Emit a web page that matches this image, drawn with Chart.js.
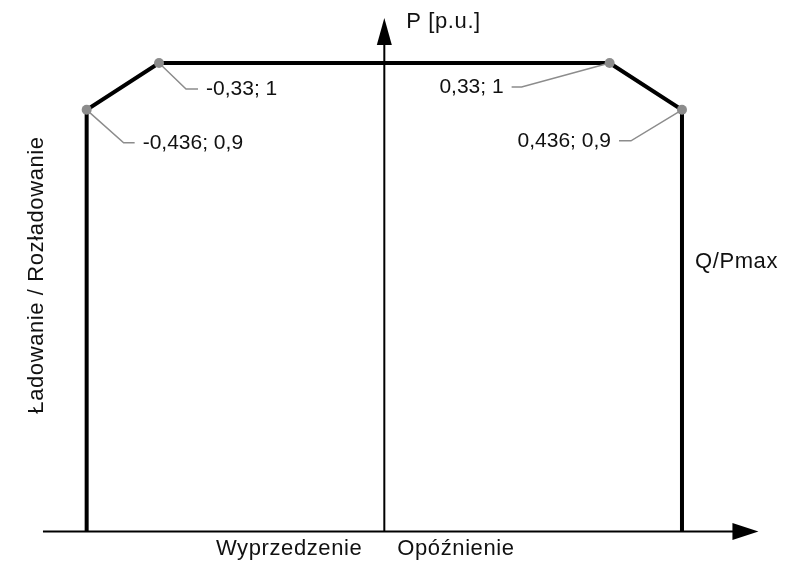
<!DOCTYPE html>
<html>
<head>
<meta charset="utf-8">
<script src="https://cdn.jsdelivr.net/npm/chart.js@4/dist/chart.umd.min.js"></script>
<style>
  body { margin: 0; background: #fff; }
  #wrap { width: 787px; height: 568px; }
</style>
</head>
<body>
<div id="wrap"><canvas id="chart" width="787" height="568"></canvas></div>
<script>
// Capability curve Q/Pmax vs P
const qValues = [-0.436, -0.436, -0.33, 0.33, 0.436, 0.436];
const pValues = [0, 0.9, 1, 1, 0.9, 0];

// points with a value label
const labelQ = [-0.436, -0.33, 0.33, 0.436];
const labelP = [0.9, 1, 1, 0.9];

const xAxisTitle = 'Q/Pmax';
const yAxisTitle = 'P [p.u.]';
const leftText = 'Wyprzedzenie';
const rightText = 'Opóźnienie';
const sideTitle = 'Ładowanie / Rozładowanie';

const FAMILY = '"Liberation Sans", Arial, sans-serif';

// leader line offsets (elbow dx, elbow dy, tail dx) per labelled point
const leaders = [
  [37, 33, 11],
  [27, 26, 12],
  [-88, 24, -10],
  [-51, 31, -12]
];

function fmt(v) {
  return String(v).replace('.', ',');
}

const curveData = qValues.map((q, i) => ({ x: q, y: pValues[i] }));
const markerData = labelQ.map((q, i) => ({ x: q, y: labelP[i] }));

function arrow(ctx, x, y, dir) {
  ctx.beginPath();
  if (dir === 'right') {
    ctx.moveTo(x, y);
    ctx.lineTo(x - 26, y - 8.5);
    ctx.lineTo(x - 26, y + 8.5);
  } else {
    ctx.moveTo(x, y);
    ctx.lineTo(x - 7.5, y + 27);
    ctx.lineTo(x + 7.5, y + 27);
  }
  ctx.closePath();
  ctx.fill();
}

const axesPlugin = {
  id: 'axesPlugin',
  beforeDatasetsDraw(chart) {
    const ctx = chart.ctx;
    const xs = chart.scales.x, ys = chart.scales.y;
    const x0 = xs.getPixelForValue(0);
    const y0 = ys.getPixelForValue(0);
    const xStart = xs.getPixelForValue(-0.5);
    const xEnd = xs.getPixelForValue(0.548);
    const yEnd = ys.getPixelForValue(1.096);
    ctx.save();
    ctx.strokeStyle = '#000';
    ctx.fillStyle = '#000';
    ctx.lineWidth = 2;
    ctx.beginPath();
    ctx.moveTo(xStart, y0);
    ctx.lineTo(xEnd - 20, y0);
    ctx.moveTo(x0, y0);
    ctx.lineTo(x0, yEnd + 20);
    ctx.stroke();
    arrow(ctx, xEnd, y0, 'right');
    arrow(ctx, x0, yEnd, 'up');
    ctx.restore();
  },
  afterDatasetsDraw(chart) {
    const ctx = chart.ctx;
    const xs = chart.scales.x, ys = chart.scales.y;
    const x0 = xs.getPixelForValue(0);
    const y0 = ys.getPixelForValue(0);
    ctx.save();

    // leader lines + value labels
    ctx.font = '21px ' + FAMILY;
    ctx.textBaseline = 'middle';
    labelQ.forEach((q, i) => {
      const px = xs.getPixelForValue(q);
      const py = ys.getPixelForValue(labelP[i]);
      const [dx, dy, tail] = leaders[i];
      ctx.strokeStyle = '#8c8c8c';
      ctx.lineWidth = 1.5;
      ctx.beginPath();
      ctx.moveTo(px, py);
      ctx.lineTo(px + dx, py + dy);
      ctx.lineTo(px + dx + tail, py + dy);
      ctx.stroke();
      ctx.fillStyle = '#111';
      const txt = fmt(q) + '; ' + fmt(labelP[i]);
      if (tail > 0) {
        ctx.textAlign = 'left';
        ctx.fillText(txt, px + dx + tail + 8, py + dy);
      } else {
        ctx.textAlign = 'right';
        ctx.fillText(txt, px + dx + tail - 8, py + dy);
      }
    });

    // axis titles
    ctx.font = '22px ' + FAMILY;
    ctx.letterSpacing = '0.6px';
    ctx.fillStyle = '#111';
    ctx.textAlign = 'left';
    ctx.fillText(yAxisTitle, x0 + 22, 22);
    ctx.fillText(xAxisTitle, 695, 262);
    ctx.textAlign = 'right';
    ctx.fillText(leftText, x0 - 22, y0 + 17);
    ctx.textAlign = 'left';
    ctx.fillText(rightText, x0 + 13, y0 + 17);

    ctx.translate(37, 275);
    ctx.rotate(-Math.PI / 2);
    ctx.textAlign = 'center';
    ctx.fillText(sideTitle, 0, 0);
    ctx.restore();
  }
};

new Chart(document.getElementById('chart'), {
  type: 'scatter',
  data: {
    datasets: [
      {
        data: curveData,
        showLine: true,
        borderColor: '#000',
        borderWidth: 4,
        borderJoinStyle: 'miter',
        pointRadius: 0,
        tension: 0,
        order: 2
      },
      {
        data: markerData,
        showLine: false,
        pointRadius: 5,
        pointBackgroundColor: '#8c8c8c',
        pointBorderWidth: 0,
        order: 1
      }
    ]
  },
  options: {
    responsive: false,
    animation: false,
    layout: { padding: 0 },
    plugins: { legend: { display: false }, tooltip: { enabled: false } },
    scales: {
      x: { type: 'linear', min: -0.5556, max: 0.5825, display: false },
      y: { type: 'linear', min: -0.0671, max: 1.1237, display: false }
    }
  },
  plugins: [axesPlugin]
});
</script>
</body>
</html>
